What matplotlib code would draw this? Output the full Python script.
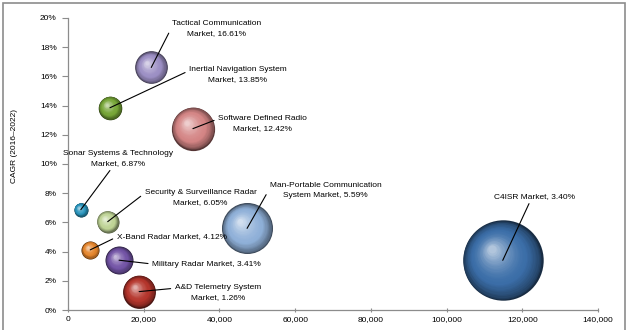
import numpy as np
import matplotlib
matplotlib.use("Agg")
import matplotlib.pyplot as plt
from matplotlib.colors import to_rgb
from matplotlib.patches import Rectangle
from matplotlib.transforms import offset_copy
from matplotlib.ticker import FuncFormatter, MultipleLocator

# market data
markets = [
    "Tactical Communication\nMarket, 16.61%",
    "Inertial Navigation System\nMarket, 13.85%",
    "Software Defined Radio\nMarket, 12.42%",
    "Sonar Systems & Technology\nMarket, 6.87%",
    "Security & Surveillance Radar\nMarket, 6.05%",
    "Man-Portable Communication\nSystem Market, 5.59%",
    "C4ISR Market, 3.40%",
    "X-Band Radar Market, 4.12%",
    "Military Radar Market, 3.41%",
    "A&D Telemetry System\nMarket, 1.26%",
]
market_size = [22000, 11100, 33000, 3400, 10500, 47300, 114800, 5900, 13500, 18800]
cagr = [16.61, 13.85, 12.42, 6.87, 6.05, 5.59, 3.40, 4.12, 3.41, 1.26]
bubble_size = [266, 139, 467, 49, 121, 650, 1616, 81, 196, 269]
colors = ["#9c8fc4", "#77a637", "#d48585", "#2a95bd", "#bfd496",
          "#8fb0d8", "#3b6ea8", "#e5852c", "#7354a6", "#b5352c"]

# label positions (data coords) and where the leader line attaches on the text box
label_x = [39300, 44900, 51400, 13300, 35000, 68000, 123300, 27400, 36600, 39600]
label_y = [19.3, 16.1, 12.8, 10.4, 7.7, 8.2, 7.8, 5.0, 3.15, 1.2]
label_rel = [(0.0, 0.6), (0.0, 0.75), (0.0, 0.75), (0.45, 0.0), (0.0, 0.75),
             (0.0, 0.6), (0.45, 0.0), (0.0, 0.5), (0.0, 0.5), (0.0, 0.75)]

plt.rcParams['font.family'] = ['Liberation Sans', 'DejaVu Sans']

fig = plt.figure(figsize=(6.29, 3.30), dpi=100)
ax = fig.add_axes([0.108, 0.0606, 0.843, 0.885])

# outer chart frame
fig.patches.append(Rectangle((0.005, -0.02), 0.989, 1.011, transform=fig.transFigure,
                             fill=False, edgecolor='#8c8c8c', linewidth=1.2))


def draw_sphere(ax, x, y, size, color, n=30):
    """Fake 3D bubble: stacked circles getting lighter towards the upper-left"""
    base = np.array(to_rgb(color))
    r_pt = np.sqrt(size) * 0.72
    dark = base * 0.4
    light = base + (1 - base) * 0.6
    for i in range(n):
        f = i / (n - 1)
        rf = 1 - 0.9 * f
        dx = -(1 - rf) * 0.3 * r_pt
        dy = (1 - rf) * 0.3 * r_pt
        if f < 0.35:
            c = dark + (base - dark) * (f / 0.35) ** 0.6
        else:
            c = base + (light - base) * ((f - 0.35) / 0.65) ** 1.6
        tr = offset_copy(ax.transData, fig=ax.figure, x=dx, y=dy, units='points')
        ax.plot([x], [y], 'o', ms=2 * r_pt * rf, mec='none', mfc=np.clip(c, 0, 1),
                transform=tr, zorder=3 + i * 0.01)


for i in range(len(markets)):
    draw_sphere(ax, market_size[i], cagr[i], bubble_size[i], colors[i])
    ax.annotate(markets[i], xy=(market_size[i], cagr[i]), xytext=(label_x[i], label_y[i]),
                ha='center', va='center', fontsize=6, multialignment='center',
                linespacing=1.6,
                arrowprops=dict(arrowstyle='-', color='black', lw=0.8,
                                relpos=label_rel[i], shrinkA=1, shrinkB=0),
                zorder=10)

ax.set_xlim(0, 140000)
ax.set_ylim(0, 20)
ax.xaxis.set_major_locator(MultipleLocator(20000))
ax.yaxis.set_major_locator(MultipleLocator(2))
ax.xaxis.set_major_formatter(FuncFormatter(lambda v, p: f"{int(v):,}"))
ax.yaxis.set_major_formatter(FuncFormatter(lambda v, p: f"{int(v)}%"))

for s in ['top', 'right']:
    ax.spines[s].set_visible(False)
for s in ['left', 'bottom']:
    ax.spines[s].set_color('#8c8c8c')
    ax.spines[s].set_linewidth(0.9)
ax.tick_params(axis='both', labelsize=6, colors='#8c8c8c', labelcolor='black', width=0.8)
ax.tick_params(axis='y', length=4, direction='out', pad=4)
ax.tick_params(axis='x', length=3, direction='inout', pad=3)
ax.set_ylabel('CAGR (2016\u20132022)', fontsize=6)
ax.yaxis.set_label_coords(-0.095, 0.56)

fig.savefig('out.png', dpi=100)
